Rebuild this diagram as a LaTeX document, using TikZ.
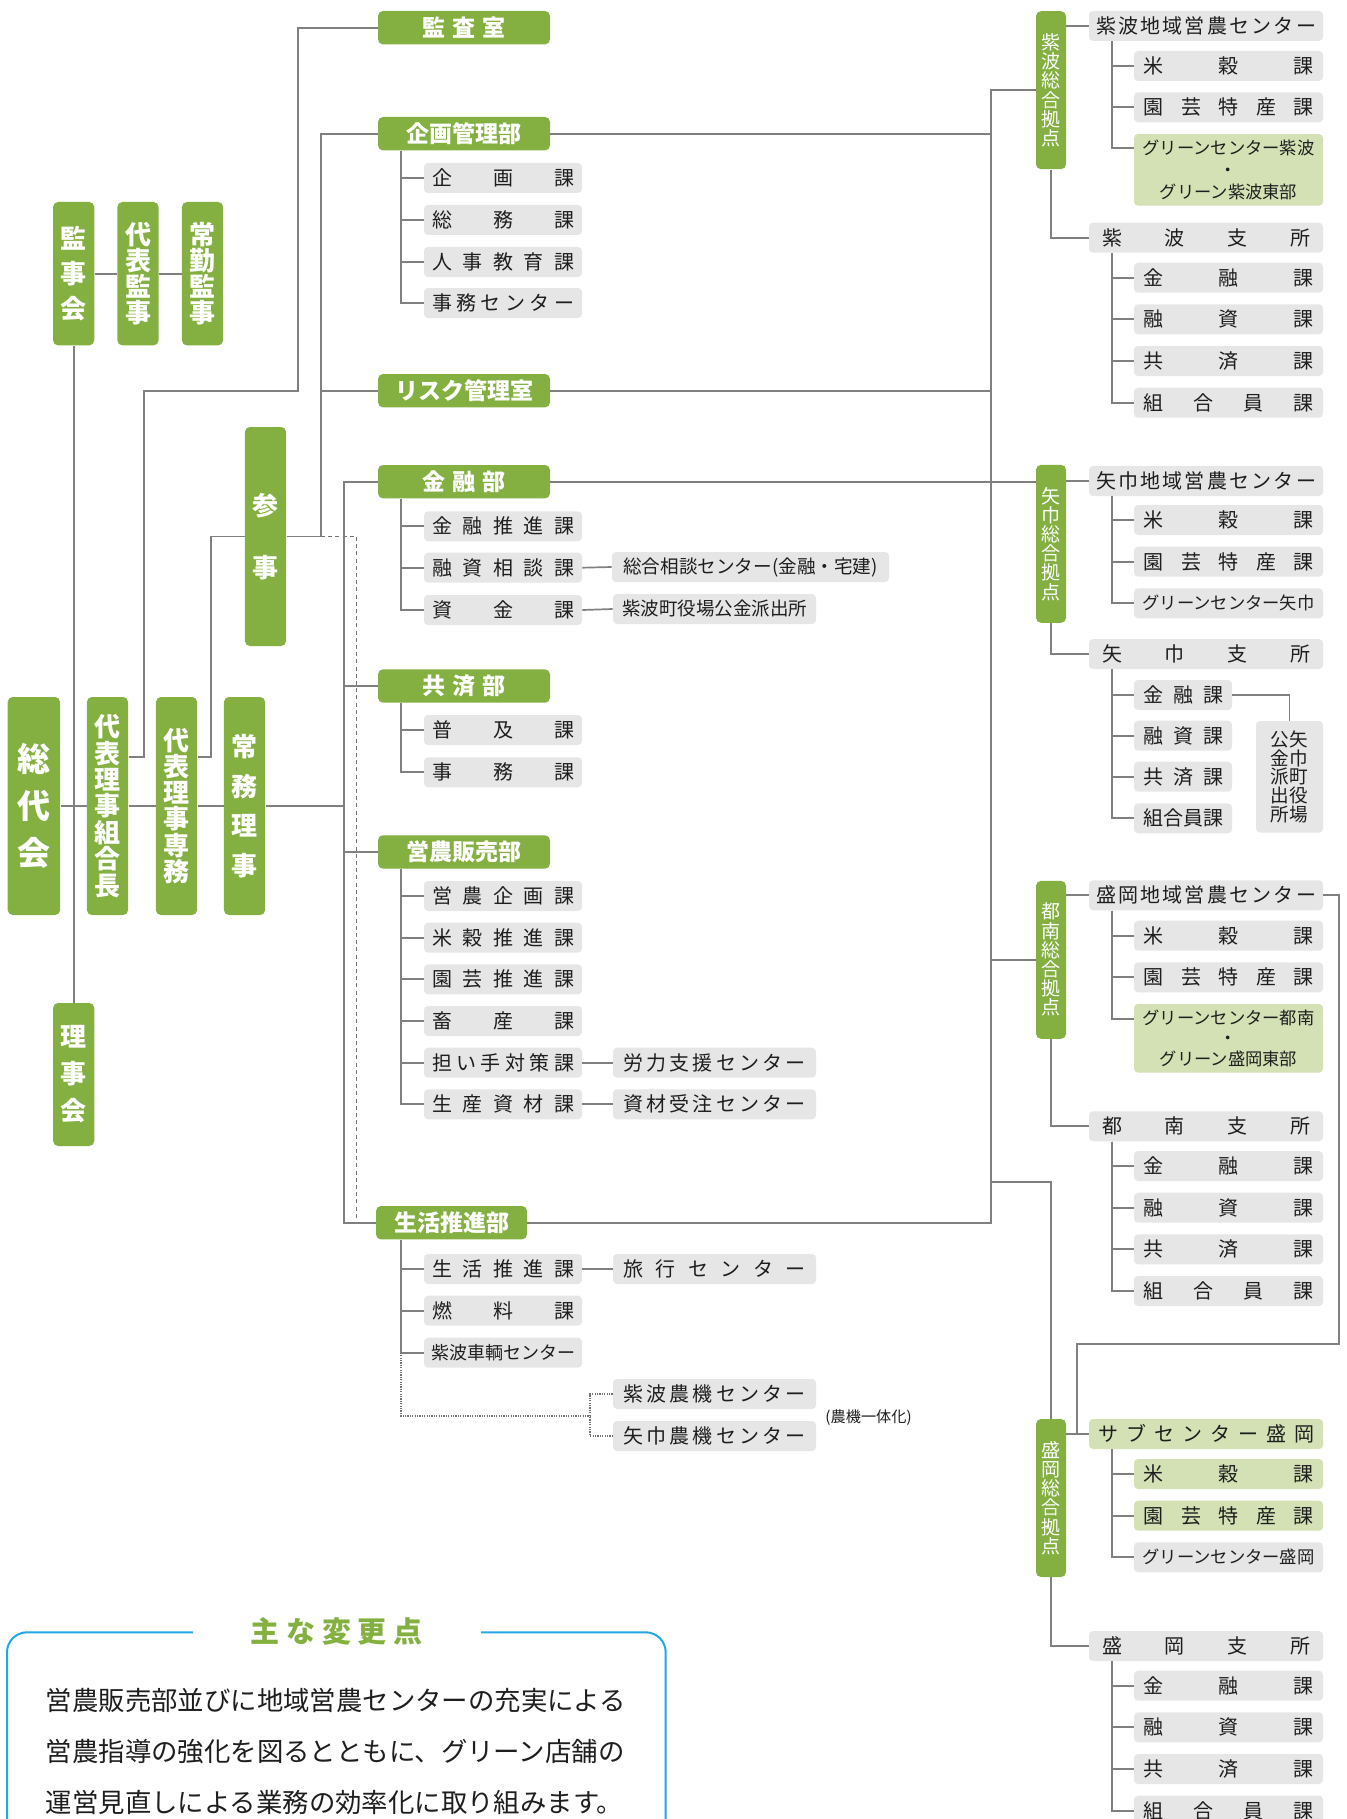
\documentclass[tikz,border=0pt]{standalone}
\usepackage{fontspec}
\setmainfont{Noto Sans CJK JP}
\definecolor{jagreen}{HTML}{84B041}
\definecolor{jalight}{HTML}{D3E1B5}
\definecolor{jagray}{HTML}{E6E6E6}
\definecolor{lncol}{HTML}{808080}
\definecolor{jablue}{HTML}{22A7E2}
\definecolor{txt}{HTML}{1E1E1E}
% spread characters evenly over a fixed width
\ExplSyntaxOn
\NewDocumentCommand{\spr}{O{71pt}m}
  { \hbox_to_wd:nn {#1} { \exp_args:No \tl_map_inline:nn {#2} { ##1 \hfil } \unskip } }
\ExplSyntaxOff
\begin{document}
\begin{tikzpicture}[
    x=0.5pt, y=-0.5pt,
    ln/.style={draw=lncol, line width=0.85pt},
    dsh/.style={draw=lncol!90!black, line width=0.75pt, dash pattern=on 2pt off 1.6pt},
    dots/.style={draw=lncol!90!black, line width=0.6pt, dash pattern=on 0.6pt off 0.6pt},
    tall/.style={
        rectangle, rounded corners=2.5pt, fill=jagreen, text=white,
        inner sep=0pt, minimum width=20.6pt, align=center,
        font=\bfseries\fontsize{13}{13}\selectfont
    },
    dept/.style={
        rectangle, rounded corners=2.5pt, fill=jagreen, text=white,
        inner sep=0pt, minimum width=86pt, minimum height=16.7pt,
        font=\bfseries\fontsize{11.5}{11.5}\selectfont
    },
    hub/.style={
        rectangle, rounded corners=2.5pt, fill=jagreen, text=white,
        inner sep=0pt, minimum width=15pt, minimum height=79pt, align=center,
        font=\fontsize{9.5}{9.6}\selectfont
    },
    sec/.style={
        rectangle, rounded corners=2pt, fill=jagray, text=txt,
        inner sep=0pt, minimum width=79pt, minimum height=15pt,
        font=\fontsize{10}{10}\selectfont
    },
    mid/.style={sec, minimum width=101.5pt},
    hdr/.style={sec, minimum width=117pt},
    sub/.style={sec, minimum width=94.5pt},
    lite/.style={fill=jalight},
    frame/.style={draw=jablue, line width=1pt, rounded corners=10pt},
]
\useasboundingbox (0,0) rectangle (1346,1819);

% ── Trunk coordinates ────────────────────────────────────────
\coordinate (ptrunk) at (321,0);
\coordinate (ltrunk) at (344,0);
\coordinate (dspine) at (401,0);
\coordinate (rtrunk) at (991,0);
\coordinate (rspine) at (1111.7,0);

% ── Governance (left) ────────────────────────────────────────
\node[tall, minimum height=71.7pt] (kanjikai) at (73.7,273.7) {監\\[4.5pt]事\\[4.5pt]会};
\node[tall, minimum height=71.7pt] (daihyo)   at (138,273.7)  {代\\表\\監\\事};
\node[tall, minimum height=71.7pt] (jokin)    at (202.5,273.7) {常\\勤\\監\\事};
\node[tall, minimum width=26.2pt, minimum height=109pt,
      font=\bfseries\fontsize{16.5}{16.5}\selectfont] (sodai) at (33.9,806) {総\\[6.8pt]代\\[6.8pt]会};
\node[tall, minimum height=109pt, font=\bfseries\fontsize{13}{13.2}\selectfont] (kumiai) at (107.5,806) {代\\表\\理\\事\\組\\合\\長};
\node[tall, minimum height=109pt, font=\bfseries\fontsize{13}{13.1}\selectfont] (senmu)  at (176.5,806) {代\\表\\理\\事\\専\\務};
\node[tall, minimum height=109pt]   (jomu)    at (244.5,806)  {常\\[6.75pt]務\\[6.75pt]理\\[6.75pt]事};
\node[tall, minimum height=71.5pt]  (rijikai) at (73.7,1074.5) {理\\[5.5pt]事\\[5.5pt]会};
\node[tall, minimum height=109.5pt] (sanji)   at (265.5,536.5) {参\\[18pt]事};

\draw[ln] (kanjikai) -- (daihyo);
\draw[ln] (daihyo) -- (jokin);
\draw[ln] (kanjikai) -- (rijikai);
\draw[ln] (sodai) -- (kumiai);
\draw[ln] (kumiai) -- (senmu);
\draw[ln] (senmu) -- (jomu);

% ── Departments ──────────────────────────────────────────────
\node[dept] (kansa)  at (464,27.7)  {\spr[41.5pt]{監査室}};
\node[dept] (kikaku) at (464,133.7) {企画管理部};
\node[dept] (risk)   at (464,390.7) {リスク管理室};
\node[dept] (kinyu)  at (464,481.7) {\spr[41.5pt]{金融部}};
\node[dept] (kyosai) at (464,686)   {\spr[41.5pt]{共済部}};
\node[dept] (einou)  at (464,852)   {営農販売部};
\node[dept, minimum width=75.5pt] (seikatsu) at (451.5,1222.7) {生活推進部};

\draw[ln] (kumiai.east |- 0,757) -| (144,391) -| ([xshift=-39.75pt]kansa.west) -- (kansa.west);
\draw[ln] (senmu.east |- 0,757) -| ([xshift=-16.65pt]sanji.west) -- (sanji.west);
\draw[ln] (sanji.east) -| (kikaku.west -| ptrunk) -- (kikaku.west);
\draw[ln] (risk.west) -- (risk.west -| ptrunk);
\draw[dsh] (sanji.east -| ptrunk) -| (356.6,1218);
\draw[ln] (jomu) -- (jomu -| ltrunk);
\draw[ln] (kinyu.west) -| (ltrunk |- seikatsu.west) -- (seikatsu.west);
\draw[ln] (kyosai.west) -- (kyosai.west -| ltrunk);
\draw[ln] (einou.west) -- (einou.west -| ltrunk);

% ── Sections under departments ───────────────────────────────
\foreach \y/\lbl [count=\i] in {178/企画課,220/総務課,262/人事教育課,303/事務センター}
    \node[sec] (kk\i) at (503,\y) {\spr{\lbl}};
\foreach \y/\lbl [count=\i] in {526.3/金融推進課,567.7/融資相談課,610/資金課}
    \node[sec] (ky\i) at (503,\y) {\spr{\lbl}};
\foreach \y/\lbl [count=\i] in {730/普及課,772.3/事務課}
    \node[sec] (ks\i) at (503,\y) {\spr{\lbl}};
\foreach \y/\lbl [count=\i] in {896/営農企画課,937.7/米穀推進課,979.3/園芸推進課,1021/畜産課,1062.7/担い手対策課,1104.3/生産資材課}
    \node[sec] (en\i) at (503,\y) {\spr{\lbl}};
\foreach \y/\lbl [count=\i] in {1269/生活推進課,1310.7/燃料課}
    \node[sec] (sk\i) at (503,\y) {\spr{\lbl}};
\node[sec, font=\fontsize{9}{9}\selectfont] (sk3) at (503,1352.7) {紫波車輌センター};

\foreach \n in {kk1,kk2,kk3,kk4} \draw[ln] (kikaku.south -| dspine) |- (\n.west);
\foreach \n in {ky1,ky2,ky3} \draw[ln] (kinyu.south -| dspine) |- (\n.west);
\foreach \n in {ks1,ks2} \draw[ln] (kyosai.south -| dspine) |- (\n.west);
\foreach \n in {en1,en2,en3,en4,en5,en6} \draw[ln] (einou.south -| dspine) |- (\n.west);
\foreach \n in {sk1,sk2,sk3} \draw[ln] (seikatsu.south -| dspine) |- (\n.west);

% ── Centres beside sections ──────────────────────────────────
\node[sec, minimum width=138.5pt, font=\fontsize{9.3}{9.3}\selectfont] (sogo) at (750.5,567) {総合相談センター(金融・宅建)};
\node[mid, font=\fontsize{9.25}{9.25}\selectfont] (shiwayaku) at (714.5,609) {紫波町役場公金派出所};
\node[mid] (rouryoku) at (714.5,1062.7) {\spr[91pt]{労力支援センター}};
\node[mid] (shizai)   at (714.5,1104.3) {\spr[91pt]{資材受注センター}};
\node[mid] (ryoko)    at (714.5,1269)   {\spr[91pt]{旅行センター}};
\node[mid] (noukiS)   at (714.5,1394)   {\spr[91pt]{紫波農機センター}};
\node[mid] (noukiY)   at (714.5,1436)   {\spr[91pt]{矢巾農機センター}};
\node[text=txt, font=\fontsize{7.6}{7.6}\selectfont, inner sep=0pt] (ittai) at (868.6,1417.7) {(農機一体化)};
\coordinate (nk) at (590,1416);

\draw[ln] (ky2.east) -- (sogo.west);
\draw[ln] (ky3.east) -- (shiwayaku.west);
\draw[ln] (en5.east) -- (rouryoku.west);
\draw[ln] (en6.east) -- (shizai.west);
\draw[ln] (sk1.east) -- (ryoko.west);
\draw[dots] (sk3.west -| dspine) |- (nk);
\draw[dots] (noukiS.west) -| (nk) |- (noukiY.west);

% ── Regional hubs (right) ────────────────────────────────────
\node[hub] (hubS) at (1051,90.2)  {紫\\波\\総\\合\\拠\\点};
\node[hub] (hubY) at (1051,543.8) {矢\\巾\\総\\合\\拠\\点};
\node[hub] (hubT) at (1051,959.8) {都\\南\\総\\合\\拠\\点};
\node[hub] (hubM) at (1051,1498)  {盛\\岡\\総\\合\\拠\\点};

\draw[ln] (kikaku.east) -- (kikaku.east -| rtrunk);
\draw[ln] (risk.east) -- (risk.east -| rtrunk);
\draw[ln] (hubS.west) -| (rtrunk |- seikatsu.east) -- (seikatsu.east);
\draw[ln] (kinyu.east) -- (kinyu.east -| hubY.west);
\draw[ln] (hubT.west) -- (hubT.west -| rtrunk);
\draw[ln] (rtrunk |- 0,1182) -| (hubM.north);

% ── Centres and branches ─────────────────────────────────────
\node[hdr] (cS)   at (1206,26)     {\spr[110pt]{紫波地域営農センター}};
\node[hdr] (bS)   at (1206,237.7)  {\spr[104pt]{紫波支所}};
\node[hdr] (cY)   at (1206,481)    {\spr[110pt]{矢巾地域営農センター}};
\node[hdr] (bY)   at (1206,654)    {\spr[104pt]{矢巾支所}};
\node[hdr] (cM)   at (1206,895.3)  {\spr[110pt]{盛岡地域営農センター}};
\node[hdr] (bT)   at (1206,1126.3) {\spr[104pt]{都南支所}};
\node[hdr, lite] (subM) at (1206,1434) {\spr[108pt]{サブセンター盛岡}};
\node[hdr] (bM)   at (1206,1646)   {\spr[104pt]{盛岡支所}};

\draw[ln] (hubS.east |- cS.west) -- (cS.west);
\draw[ln] (hubS.south) |- (bS.west);
\draw[ln] (hubY.east |- cY.west) -- (cY.west);
\draw[ln] (hubY.south) |- (bY.west);
\draw[ln] (hubT.east |- cM.west) -- (cM.west);
\draw[ln] (hubT.south) |- (bT.west);
\draw[ln] (hubM.east |- subM.west) -- (subM.west);
\draw[ln] (hubM.south) |- (bM.west);
\draw[ln] (cM.east) -| (1339,1344.3) -| ([xshift=-5.65pt]subM.west) -- (subM.west);

% ── Sections of centres and branches ─────────────────────────
\foreach \y/\lbl [count=\i] in {66/米穀課,107.3/園芸特産課}
    \node[sub] (sS\i) at (1228.5,\y) {\spr[85pt]{\lbl}};
\node[sub, lite, minimum height=35.8pt, align=center, font=\fontsize{8.65}{10.8}\selectfont] (gS) at (1228.5,169.9)
    {グリーンセンター紫波\\・\\グリーン紫波東部};
\foreach \y/\lbl [count=\i] in {277.7/金融課,319.3/融資課,361/共済課,402.7/組合員課}
    \node[sub] (bS\i) at (1228.5,\y) {\spr[85pt]{\lbl}};
\foreach \y/\lbl [count=\i] in {520/米穀課,561.7/園芸特産課}
    \node[sub] (sY\i) at (1228.5,\y) {\spr[85pt]{\lbl}};
\node[sub, font=\fontsize{8.65}{8.65}\selectfont] (sY3) at (1228.5,603.3) {グリーンセンター矢巾};
\foreach \y/\lbl [count=\i] in {695/金融課,735.7/融資課,776.7/共済課,818.3/組合員課}
    \node[sec, minimum width=49pt] (bY\i) at (1183,\y) {\spr[40pt]{\lbl}};
\node[sec, minimum width=33.5pt, minimum height=55.8pt, align=center,
      font=\fontsize{9.3}{9.35}\selectfont] (kokin) at (1289.5,776.8) {公矢\\金巾\\派町\\出役\\所場};
\foreach \y/\lbl [count=\i] in {935.7/米穀課,977.3/園芸特産課}
    \node[sub] (sM\i) at (1228.5,\y) {\spr[85pt]{\lbl}};
\node[sub, lite, minimum height=34.3pt, align=center, font=\fontsize{8.65}{10.2}\selectfont] (gM) at (1228.5,1038.3)
    {グリーンセンター都南\\・\\グリーン盛岡東部};
\foreach \y/\lbl [count=\i] in {1166/金融課,1207.7/融資課,1249.3/共済課,1291/組合員課}
    \node[sub] (bT\i) at (1228.5,\y) {\spr[85pt]{\lbl}};
\foreach \y/\lbl [count=\i] in {1474/米穀課,1515.7/園芸特産課}
    \node[sub, lite] (uM\i) at (1228.5,\y) {\spr[85pt]{\lbl}};
\node[sub, font=\fontsize{8.65}{8.65}\selectfont] (uM3) at (1228.5,1557.3) {グリーンセンター盛岡};
\foreach \y/\lbl [count=\i] in {1685.7/金融課,1727.3/融資課,1769/共済課,1810.7/組合員課}
    \node[sub] (bM\i) at (1228.5,\y) {\spr[85pt]{\lbl}};

\foreach \n in {sS1,sS2} \draw[ln] (cS.south -| rspine) |- (\n.west);
\draw[ln] (cS.south -| rspine) |- ([yshift=10.8pt]gS.west);
\foreach \n in {bS1,bS2,bS3,bS4} \draw[ln] (bS.south -| rspine) |- (\n.west);
\foreach \n in {sY1,sY2,sY3} \draw[ln] (cY.south -| rspine) |- (\n.west);
\foreach \n in {bY1,bY2,bY3,bY4} \draw[ln] (bY.south -| rspine) |- (\n.west);
\draw[ln] (bY1.east) -| (kokin.north);
\foreach \n in {sM1,sM2} \draw[ln] (cM.south -| rspine) |- (\n.west);
\draw[ln] (cM.south -| rspine) |- ([yshift=9.65pt]gM.west);
\foreach \n in {bT1,bT2,bT3,bT4} \draw[ln] (bT.south -| rspine) |- (\n.west);
\foreach \n in {uM1,uM2,uM3} \draw[ln] (subM.south -| rspine) |- (\n.west);
\foreach \n in {bM1,bM2,bM3,bM4} \draw[ln] (bM.south -| rspine) |- (\n.west);

% ── Main changes box ─────────────────────────────────────────
\node[text=jagreen, font=\bfseries\fontsize{14.5}{14.5}\selectfont, inner sep=0pt] (title) at (336.7,1631.7) {\spr[86pt]{主な変更点}};
\draw[frame] (193,1632.3) -| (7,1880);
\draw[frame] (481,1632.3) -| (665.7,1880);
\node[anchor=west, text=txt, inner sep=0pt, font=\fontsize{13.2}{13.2}\selectfont] (body1) at (45.5,1700)   {営農販売部並びに地域営農センターの充実による};
\node[anchor=west, text=txt, inner sep=0pt, font=\fontsize{13.2}{13.2}\selectfont] (body2) at (45.5,1751.7) {営農指導の強化を図るとともに、グリーン店舗の};
\node[anchor=west, text=txt, inner sep=0pt, font=\fontsize{13.2}{13.2}\selectfont] (body3) at (45.5,1802.7) {運営見直しによる業務の効率化に取り組みます。};

\end{tikzpicture}
\end{document}
